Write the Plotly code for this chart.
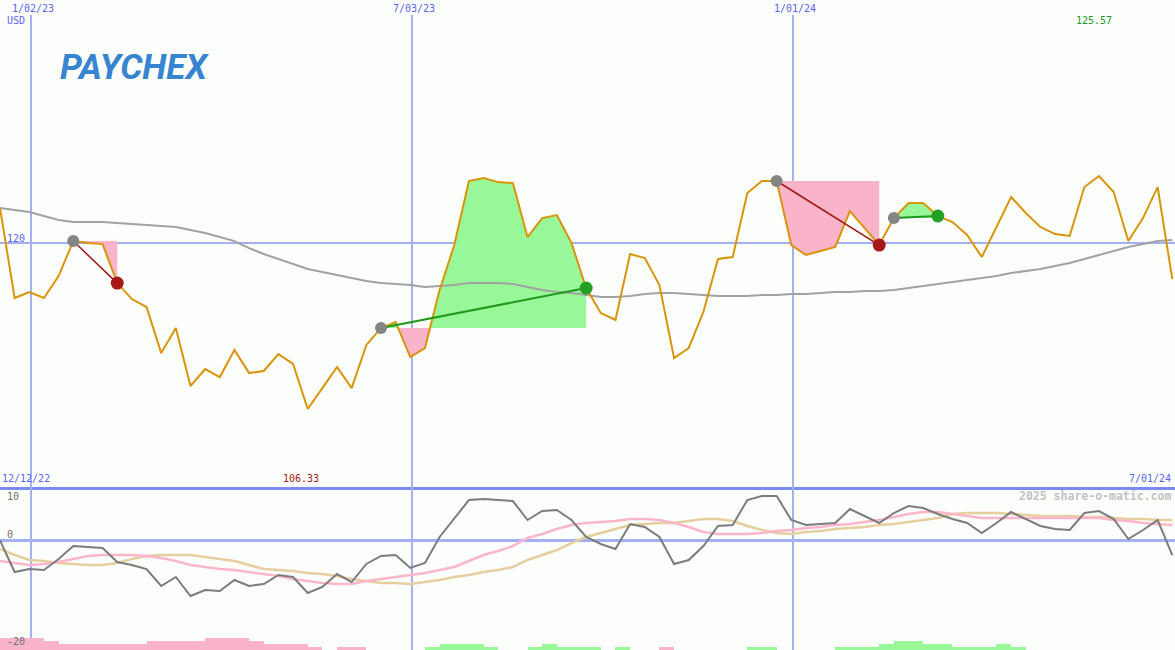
import pandas as pd
import plotly.graph_objects as go

# ---------------- data (weekly) ----------------
start_date = "2022-12-18"
price = [122.93, 115.50, 115.99, 115.50, 117.31, 120.20, 120.04, 119.95, 116.73, 115.41,
         114.75, 110.95, 113.02, 108.23, 109.63, 108.97, 111.20, 109.30, 109.47, 110.87,
         110.05, 106.33, 108.06, 109.80, 108.06, 111.62, 113.02, 113.51, 110.62, 111.37,
         116.16, 119.87, 125.16, 125.41, 125.07, 124.99, 120.53, 122.10, 122.35, 120.04,
         116.32, 114.26, 113.68, 119.13, 118.80, 116.57, 110.54, 111.37, 114.34, 118.72,
         118.88, 124.17, 125.16, 125.16, 119.87, 119.05, 119.38, 119.71, 122.68, 121.28,
         119.87, 122.10, 123.34, 123.34, 122.27, 121.77, 120.70, 118.88, 121.36, 123.84,
         122.52, 121.36, 120.78, 120.62, 124.66, 125.57, 124.25, 120.20, 122.10, 124.66,
         117.07]
moving_avg = [122.93, 122.76, 122.60, 122.27, 121.94, 121.77, 121.77, 121.77, 121.69, 121.61,
              121.52, 121.44, 121.36, 121.11, 120.86, 120.53, 120.20, 119.62, 119.13, 118.72,
              118.30, 117.89, 117.64, 117.40, 117.15, 116.90, 116.73, 116.65, 116.57, 116.40,
              116.49, 116.57, 116.73, 116.73, 116.73, 116.65, 116.40, 116.16, 115.99, 115.91,
              115.74, 115.58, 115.58, 115.66, 115.83, 115.91, 115.91, 115.83, 115.74, 115.66,
              115.66, 115.66, 115.74, 115.74, 115.83, 115.83, 115.91, 115.99, 115.99, 116.07,
              116.07, 116.16, 116.32, 116.49, 116.65, 116.82, 116.98, 117.15, 117.31, 117.56,
              117.72, 117.89, 118.14, 118.39, 118.72, 119.05, 119.38, 119.71, 119.95, 120.20,
              120.29]
osc_main = [0.0, -6.89, -6.24, -6.46, -4.07, -1.24, -1.46, -1.67, -4.72, -5.37,
            -6.24, -9.93, -7.98, -12.11, -10.80, -11.02, -8.63, -9.93, -9.50, -7.54,
            -7.98, -11.46, -10.15, -7.33, -9.07, -5.15, -3.41, -3.20, -6.02, -4.93,
            0.72, 4.63, 8.76, 8.98, 8.76, 8.54, 4.41, 6.37, 6.59, 4.41,
            0.72, -0.80, -1.89, 3.54, 2.89, 0.72, -5.15, -4.28, -1.24, 3.11,
            3.33, 8.76, 9.63, 9.63, 4.41, 3.33, 3.54, 3.76, 6.80, 5.28,
            3.76, 5.93, 7.46, 7.02, 5.72, 4.63, 3.76, 1.59, 3.76, 6.15,
            4.63, 3.11, 2.46, 2.24, 5.93, 6.37, 4.63, 0.28, 2.24, 4.41,
            -3.20]
osc_pink = [-4.50, -4.93, -5.37, -5.15, -4.72, -4.07, -3.41, -3.20, -3.20, -3.20,
            -3.41, -3.85, -4.50, -5.37, -5.80, -6.24, -6.46, -6.89, -7.33, -7.76,
            -8.41, -8.85, -9.28, -9.50, -9.50, -8.85, -8.41, -7.98, -7.54, -7.11,
            -6.46, -5.80, -4.50, -3.20, -2.33, -1.24, 0.50, 1.37, 2.46, 3.33,
            3.76, 3.98, 4.20, 4.63, 4.63, 4.41, 3.76, 2.89, 1.80, 1.37,
            1.37, 1.37, 1.59, 2.02, 2.24, 2.67, 2.89, 3.33, 3.54, 3.98,
            4.41, 5.07, 5.72, 6.15, 6.15, 5.72, 5.28, 4.85, 4.85, 4.85,
            4.85, 4.85, 4.85, 4.85, 4.85, 4.85, 4.41, 4.20, 3.76, 3.54,
            3.33]
osc_tan = [-1.89, -3.20, -4.28, -4.50, -4.93, -5.15, -5.37, -5.37, -4.93, -4.07,
           -3.41, -3.20, -3.20, -3.20, -3.63, -4.07, -4.50, -5.37, -6.24, -6.46,
           -6.67, -7.11, -7.33, -7.76, -8.41, -8.85, -9.28, -9.28, -9.50, -9.07,
           -8.63, -7.98, -7.54, -6.89, -6.46, -5.80, -4.28, -3.20, -2.11, -0.59,
           0.72, 1.59, 2.46, 3.33, 3.54, 3.76, 3.76, 4.20, 4.63, 4.63,
           4.20, 3.11, 2.24, 1.59, 1.37, 1.80, 2.02, 2.46, 2.67, 2.89,
           3.33, 3.54, 3.98, 4.41, 4.85, 5.72, 5.93, 5.93, 5.93, 5.72,
           5.50, 5.28, 5.28, 5.28, 5.07, 5.07, 4.85, 4.63, 4.63, 4.41,
           4.41]
# signed weekly signal bars (negative = pink, positive = green)
bar_levels = [-4, -4, -4, -3, -2, -2, -2, -2, -2, -2,
              -3, -3, -3, -3, -4, -4, -4, -3, -2, -2,
              -2, -1, 0, -1, -1, 0, 0, 0, 0, 1,
              2, 2, 2, 1, 0, 0, 1, 2, 1, 1,
              1, 0, 1, 0, 0, -1, 0, 0, 0, 0,
              0, 1, 1, 0, 0, 0, 0, 1, 1, 1,
              2, 3, 3, 2, 2, 1, 1, 1, 2, 1,
              0, 0, 0, 0, 0, 0, 0, 0, 0, 0]
entry_idx = [5, 26, 53, 61]
exit_idx = [8, 40, 60, 64]
grid_dates = ["2023-01-02", "2023-07-03", "2024-01-01"]
grid_labels = ["1/02/23", "7/03/23", "1/01/24"]
range_start_label = "12/12/22"
range_end_label = "7/01/24"
price_high_label = "125.57"
price_low_label = "106.33"
level_label = "120"
osc_tick_labels = ["10", "0", "-20"]

# ---------------- styling ----------------
W, H = 1175, 650
BG = "#fcfefc"
GRID = "#a3b1f3"
SEP = "#7b8af0"
TXT_BLUE = "#5a64f0"
ORANGE = "#da940a"
PINK_FILL = "#f9b4c9"
GREEN_FILL = "#98f898"
MONO = "DejaVu Sans Mono"

dates = pd.date_range(start_date, periods=len(price), freq="7D")

fig = go.Figure()

# trade fills (between entry level and price)
for i0, i1 in zip(entry_idx, exit_idx):
    level = price[i0]
    xs = [dates[i0]]
    ys = [price[i0]]
    for k in range(i0, i1):
        p0, p1 = price[k] - level, price[k + 1] - level
        if p0 * p1 < 0:
            t = p0 / (p0 - p1)
            xs.append(dates[k] + (dates[k + 1] - dates[k]) * t)
            ys.append(level)
        xs.append(dates[k + 1])
        ys.append(price[k + 1])
    up = [max(y, level) for y in ys]
    dn = [min(y, level) for y in ys]
    for yy, col in ((up, GREEN_FILL), (dn, PINK_FILL)):
        fig.add_trace(go.Scatter(
            x=xs + [xs[-1], xs[0]], y=yy + [level, level],
            mode="lines", fill="toself", fillcolor=col,
            line=dict(width=0, color=col), hoverinfo="skip",
            xaxis="x", yaxis="y"))

# moving average
fig.add_trace(go.Scatter(x=dates, y=moving_avg, mode="lines",
                         line=dict(color="#a2a2a2", width=2),
                         xaxis="x", yaxis="y"))
# price
fig.add_trace(go.Scatter(x=dates, y=price, mode="lines",
                         line=dict(color=ORANGE, width=2),
                         xaxis="x", yaxis="y"))
# trade lines and markers
for i0, i1 in zip(entry_idx, exit_idx):
    win = price[i1] > price[i0]
    lc = "#1f9a1f" if win else "#a01414"
    fig.add_trace(go.Scatter(x=[dates[i0], dates[i1]], y=[price[i0], price[i1]],
                             mode="lines", line=dict(color=lc, width=2 if win else 1.5),
                             xaxis="x", yaxis="y"))
    fig.add_trace(go.Scatter(x=[dates[i0]], y=[price[i0]], mode="markers",
                             marker=dict(color="#858585", size=12, line=dict(width=0)),
                             xaxis="x", yaxis="y"))
    fig.add_trace(go.Scatter(x=[dates[i1]], y=[price[i1]], mode="markers",
                             marker=dict(color="#25a025" if win else "#a81818", size=13,
                                         line=dict(width=0)),
                             xaxis="x", yaxis="y"))

# lower panel oscillators
fig.add_trace(go.Scatter(x=dates, y=osc_tan, mode="lines",
                         line=dict(color="#e6cf9f", width=2.5), xaxis="x2", yaxis="y2"))
fig.add_trace(go.Scatter(x=dates, y=osc_pink, mode="lines",
                         line=dict(color="#fbb6c9", width=2.5), xaxis="x2", yaxis="y2"))
fig.add_trace(go.Scatter(x=dates, y=osc_main, mode="lines",
                         line=dict(color="#7c7c7c", width=2), xaxis="x2", yaxis="y2"))

# signal bars
bar_x = [d + pd.Timedelta(days=3.5) for d in dates[:-1]]
bar_h = [abs(v) for v in bar_levels]
bar_c = [GREEN_FILL if v > 0 else PINK_FILL for v in bar_levels]
fig.add_trace(go.Bar(x=bar_x, y=bar_h, marker=dict(color=bar_c, line=dict(width=0)),
                     width=7 * 86400000, xaxis="x2", yaxis="y3"))

# ---------------- layout ----------------
def py(px):
    return 1 - px / H

main_lo, main_hi = py(487), py(15)
x_range = [dates[0], pd.Timestamp("2024-07-01 07:00")]

fig.update_layout(
    width=W, height=H, margin=dict(l=0, r=0, t=0, b=0),
    paper_bgcolor=BG, plot_bgcolor=BG, showlegend=False, bargap=0,
    hovermode=False,
    xaxis=dict(domain=[0, 1], range=x_range, anchor="y", tickvals=grid_dates,
               showticklabels=False, ticks="", showgrid=True, gridcolor=GRID,
               gridwidth=1.5, zeroline=False, showline=True, linecolor=SEP,
               linewidth=2.5),
    xaxis2=dict(domain=[0, 1], range=x_range, anchor="y2", matches="x",
                tickvals=grid_dates, showticklabels=False, ticks="",
                showgrid=True, gridcolor=GRID, gridwidth=1.5, zeroline=False,
                showline=False),
    yaxis=dict(domain=[main_lo, main_hi], range=[99.89, 138.87], anchor="x",
               tickvals=[120], showticklabels=False, ticks="", showgrid=True,
               gridcolor=GRID, gridwidth=2, zeroline=False),
    yaxis2=dict(domain=[0, main_lo], range=[-23.85, 11.59], anchor="x2",
                tickvals=[0], showticklabels=False, ticks="", showgrid=True,
                gridcolor=GRID, gridwidth=2.5, zeroline=False),
    yaxis3=dict(overlaying="y2", range=[0, 52.5], visible=False, anchor="x2"),
)

ann = []
def label(text, x, y, color, size=10, xanchor="left", bold=False, family=MONO):
    ann.append(dict(text=("<b>%s</b>" % text) if bold else text,
                    x=x / W, y=py(y), xref="paper", yref="paper",
                    xanchor=xanchor, yanchor="middle", showarrow=False,
                    font=dict(family=family, size=size, color=color)))

grid_px = [31, 412, 793]
for lab, gx in zip(grid_labels, grid_px):
    label(lab, gx + 2, 8, TXT_BLUE, xanchor="center")
label("USD", 5, 20, TXT_BLUE)
label(level_label, 5, 238, TXT_BLUE)
label(price_high_label, 1094, 21, "#229a22", xanchor="center")
label(range_start_label, 0, 478, TXT_BLUE)
label(price_low_label, 301, 478, "#a81818", xanchor="center")
label(range_end_label, 1173, 478, TXT_BLUE, xanchor="right")
label("2025 share-o-matic.com", 1173, 496, "#c2c2c2", size=11.5, xanchor="right", bold=True)
label(osc_tick_labels[0], 5, 496, "#707070")
label(osc_tick_labels[1], 5, 534, "#707070")
label(osc_tick_labels[2], 5, 641, "#707070")
label("<i>PAYCHEX</i>", 134, 68, "#3784d0", size=35, xanchor="center", bold=True,
      family="Roboto")
fig.update_layout(annotations=ann)

fig.write_html("out.html", config={"displayModeBar": False},
               post_script="document.body.style.margin='0px';document.body.style.overflow='hidden';")
